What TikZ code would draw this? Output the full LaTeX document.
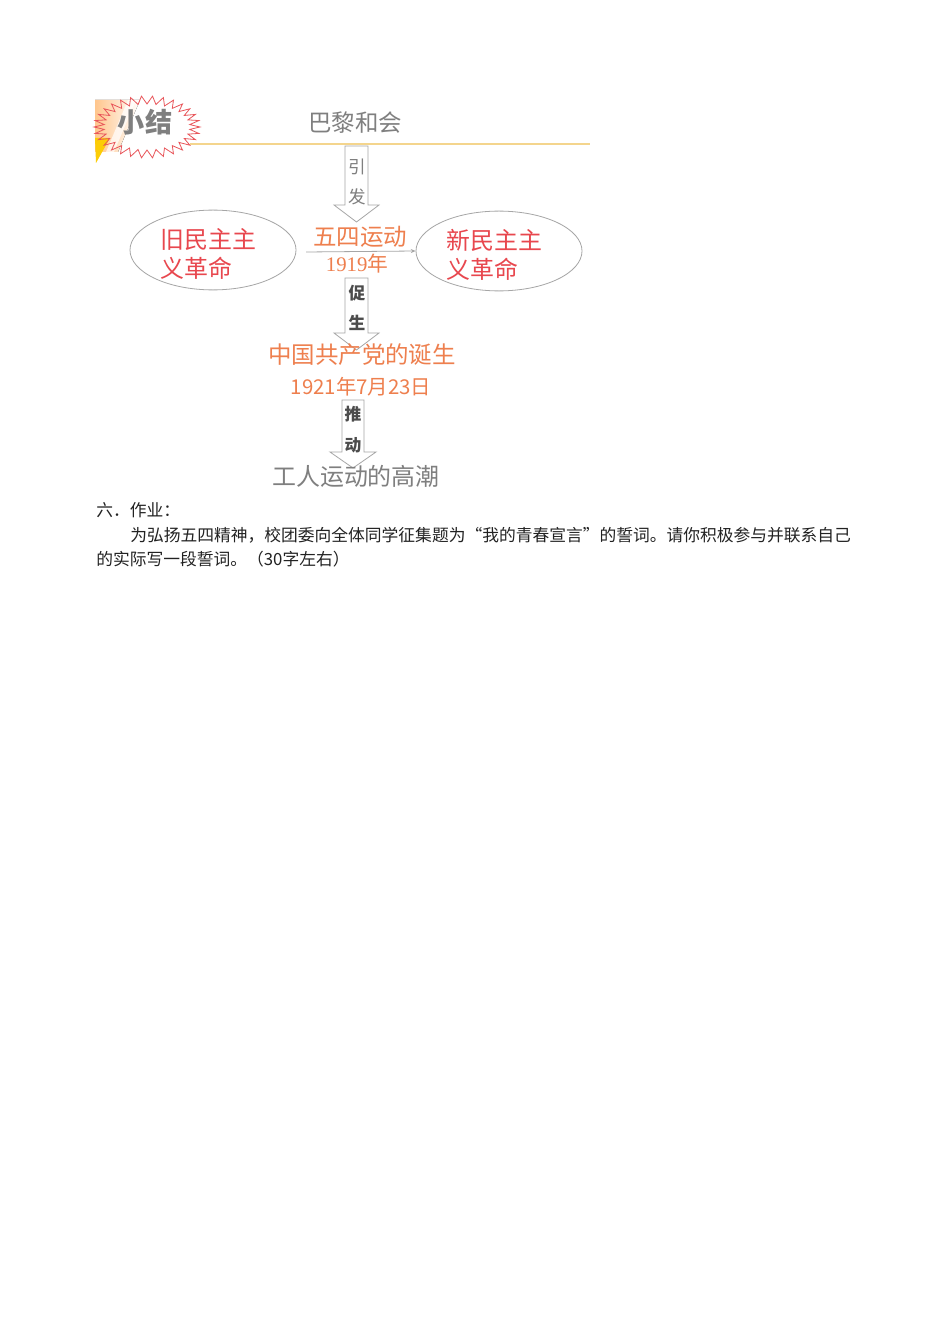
\documentclass[tikz,border=0pt]{standalone}
\usepackage{fontspec}
\setmainfont{Liberation Serif}
\newfontfamily\cjk{Noto Sans CJK SC}
\newfontfamily\bodyfont{Noto Sans CJK SC}
\newfontfamily\serifnum{Liberation Serif}
\usetikzlibrary{arrows.meta,shapes.geometric}
\definecolor{txtgray}{HTML}{7F7F7F}
\definecolor{redtxt}{HTML}{E8474E}
\definecolor{orgtxt}{HTML}{EE7F4E}
\definecolor{linegray}{HTML}{A6A6A6}
\definecolor{goldline}{HTML}{F4D58D}
\definecolor{burst}{HTML}{E8555A}
\definecolor{bodytxt}{HTML}{222222}
\tikzset{
  bigtxt/.style={inner sep=0pt, font=\cjk\fontsize{14.7pt}{17pt}\selectfont},
  ovaltxt/.style={inner sep=0pt, align=left, anchor=west, text=redtxt, font=\cjk\fontsize{15pt}{18.2pt}\selectfont},
  oval/.style={draw=linegray, line width=0.5pt, ellipse, minimum width=104pt, minimum height=50pt, inner sep=0pt},
  arrbox/.style={draw=linegray, fill=white, line width=0.5pt, line join=miter},
  arrtxt/.style={inner sep=0pt, text=txtgray, font=\cjk\fontsize{11pt}{12pt}\selectfont},
  arrbold/.style={inner sep=0pt, text=black!70, font=\cjk\bfseries\fontsize{10.5pt}{12pt}\selectfont},
  body/.style={inner sep=0pt, anchor=base west, text=bodytxt, font=\bodyfont\fontsize{10.5pt}{12pt}\selectfont},
}
\newcommand{\blockarrow}[6]{% cx, ytop, yhead, ytip, halfshaft, halfhead
  \draw[arrbox] ({#1-#5},#2) -- ({#1+#5},#2) -- ({#1+#5},#3) -- ({#1+#6},#3) -- (#1,#4)
    -- ({#1-#6},#3) -- ({#1-#5},#3) -- cycle;}
\begin{document}
\begin{tikzpicture}[x=0.6265pt,y=-0.6265pt]
\useasboundingbox (0,0) rectangle (950,1344);
\fill[white] (0,0) rectangle (950,1344);

% badge
\fill[left color=orange!45, right color=white] (95,100) -- (140,100) -- (118,152) -- (95,152) -- cycle;
\fill[white, opacity=0.7] (128,100) -- (136,100) -- (114,152) -- (106,152) -- cycle;
\fill[yellow!65!orange] (95,138) -- (110,138) -- (96,163) -- cycle;
\draw[burst, line width=0.5pt, line join=miter]
  plot[variable=\t, samples at={0,6,...,354}] ({147+(53-10*mod(round(\t/6),2))*cos(\t)}, {127+(31-8*mod(round(\t/6),2))*sin(\t)}) -- cycle;
\node[inner sep=0pt, text=txtgray, font=\cjk\bfseries\fontsize{17pt}{19pt}\selectfont] (xj) at (145,122) {小结};

% header line and title
\coordinate (gl) at (190,144);
\coordinate (gr) at (590,144);
\draw[goldline, line width=0.8pt] (gl) -- (gr);
\node[bigtxt, text=txtgray] (bali) at (355,123) {巴黎和会};

% arrow 1
\blockarrow{356.5}{146}{205}{222}{11.5}{22.5}
\node[arrtxt] (yin) at (357,167) {引};
\node[arrtxt] (fa) at (357,197) {发};

% ellipses
\node[oval] (lell) at (213,250) {};
\node[oval] (rell) at (499,251) {};
\node[ovaltxt] (old) at (160,254) {旧民主主\\义革命};
\node[ovaltxt] (new) at (446,255) {新民主主\\义革命};

% May Fourth
\node[bigtxt, text=orgtxt] (wusi) at (360,237) {五四运动};
\node[inner sep=0pt, text=orgtxt, font=\fontsize{13pt}{15pt}\selectfont] (y1919) at (357,264) {\serifnum 1919\cjk 年};
\coordinate (ls) at (306,252);
\draw[linegray, line width=0.5pt, -{Stealth[length=3pt,width=2.5pt]}] (ls) -- (rell.west);

% arrow 2
\blockarrow{356.5}{278}{333}{350}{11.5}{22.5}
\node[arrbold] (cu) at (357,293) {促};
\node[arrbold] (sheng) at (357,323) {生};

% CPC
\node[bigtxt, text=orgtxt] (cpc) at (362,355) {中国共产党的诞生};
\node[inner sep=0pt, text=orgtxt, font=\cjk\fontsize{12.8pt}{15pt}\selectfont] (date) at (361,387) {1921年7月23日};

% arrow 3
\blockarrow{353}{400}{452}{468}{11}{23}
\node[arrbold] (tui) at (353,414) {推};
\node[arrbold] (dong) at (353,445) {动};

\node[bigtxt, text=txtgray, font=\cjk\fontsize{15pt}{17pt}\selectfont] (gongren) at (356,476) {工人运动的高潮};

% body text
\node[body] (l1) at (96,516) {六．作业：};
\node[body] (l2) at (130,541) {为弘扬五四精神，校团委向全体同学征集题为“我的青春宣言”的誓词。请你积极参与并联系自己};
\node[body] (l3) at (96,565) {的实际写一段誓词。（30字左右）};
\end{tikzpicture}
\end{document}
